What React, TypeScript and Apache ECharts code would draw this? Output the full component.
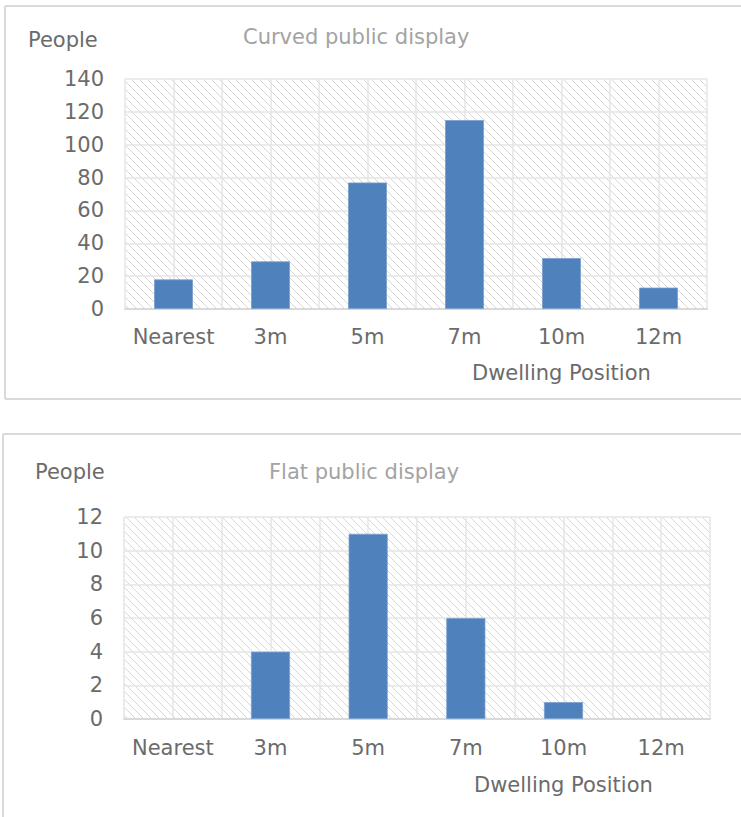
import React, { useEffect, useRef } from "react";
import * as echarts from "echarts";

const categories = ["Nearest", "3m", "5m", "7m", "10m", "12m"];
const curvedValues = [18, 29, 77, 115, 31, 13];
const flatValues = [0, 4, 11, 6, 1, 0];
const curvedAxis = { min: 0, max: 140, interval: 20 };
const flatAxis = { min: 0, max: 12, interval: 2 };
const curvedTitle = "Curved public display";
const flatTitle = "Flat public display";
const yName = "People";
const xName = "Dwelling Position";

const FONT = "DejaVu Sans, Verdana, sans-serif";
const FS = 21;
const LABEL = "#6b6b6b";
const TITLE = "#a3a3a3";
const GRIDLINE = "#e6e6e6";
const HATCH = "#d2d2d2";
const BAR = "#4f81bd";
const BORDER = "#d9d9d9";

const halfBands = Array.from({ length: categories.length * 2 }, (_, i) => String(i));

function hatchRender(params: any, api: any) {
  const cs = params.coordSys;
  const L = cs.x, T = cs.y, R = cs.x + cs.width, B = cs.y + cs.height;
  const children: any[] = [];
  const step = 8;
  for (let k = T - R; k <= B - L; k += step) {
    const x1 = Math.max(L, T - k);
    const x2 = Math.min(R, B - k);
    if (x2 > x1) {
      children.push({
        type: "line",
        silent: true,
        shape: { x1, y1: x1 + k, x2, y2: x2 + k },
        style: { stroke: HATCH, lineWidth: 0.9 },
      });
    }
  }
  return { type: "group", children };
}

export default function App() {
  const ref = useRef<HTMLDivElement>(null);
  useEffect(() => {
    if (!ref.current) return;
    const chart = echarts.init(ref.current, null, { renderer: "svg" });
    const labelStyle = { color: LABEL, fontSize: FS, fontFamily: FONT };
    const titleText = (text: string, left: number, top: number, color: string) => ({
      text,
      left,
      top,
      padding: 0,
      textStyle: { color, fontSize: FS, fontWeight: "normal", fontFamily: FONT },
    });
    const catAxis = (gridIndex: number, margin: number) => ({
      type: "category",
      gridIndex,
      data: categories,
      z: 1,
      axisLine: { show: true, lineStyle: { color: BORDER, width: 2 } },
      axisTick: { show: false },
      axisLabel: { ...labelStyle, margin, interval: 0 },
      splitLine: { show: false },
    });
    const halfAxis = (gridIndex: number) => ({
      type: "category",
      gridIndex,
      data: halfBands,
      position: "bottom",
      z: 1,
      axisLine: { show: false },
      axisTick: { show: false },
      axisLabel: { show: false },
      splitLine: { show: true, lineStyle: { color: GRIDLINE, width: 1.5 } },
    });
    const valAxis = (gridIndex: number, ax: any, margin: number) => ({
      type: "value",
      gridIndex,
      min: ax.min,
      max: ax.max,
      interval: ax.interval,
      z: 1,
      axisLine: { show: false },
      axisTick: { show: false },
      axisLabel: { ...labelStyle, margin },
      splitLine: { show: true, lineStyle: { color: GRIDLINE, width: 1.5 } },
    });
    chart.setOption({
      animation: false,
      backgroundColor: "#ffffff",
      title: [
        titleText(yName, 28, 29, LABEL),
        titleText(curvedTitle, 243, 26, TITLE),
        titleText(xName, 472, 362, LABEL),
        titleText(yName, 35, 461, LABEL),
        titleText(flatTitle, 269, 461, TITLE),
        titleText(xName, 474, 774, LABEL),
      ],
      grid: [
        { left: 125, top: 79, width: 582, height: 230 },
        { left: 124, top: 517, width: 586, height: 202 },
      ],
      xAxis: [catAxis(0, 17), catAxis(1, 18), halfAxis(0), halfAxis(1)],
      yAxis: [valAxis(0, curvedAxis, 21), valAxis(1, flatAxis, 21)],
      series: [
        {
          type: "custom",
          xAxisIndex: 0,
          yAxisIndex: 0,
          z: 0,
          silent: true,
          renderItem: hatchRender,
          data: [[0, 0]],
        },
        {
          type: "custom",
          xAxisIndex: 1,
          yAxisIndex: 1,
          z: 0,
          silent: true,
          renderItem: hatchRender,
          data: [[0, 0]],
        },
        {
          type: "bar",
          xAxisIndex: 0,
          yAxisIndex: 0,
          z: 2,
          barWidth: "40%",
          data: curvedValues,
          itemStyle: { color: BAR, borderColor: "#7a9fce", borderWidth: 0.8 },
        },
        {
          type: "bar",
          xAxisIndex: 1,
          yAxisIndex: 1,
          z: 2,
          barWidth: "40%",
          data: flatValues.map((v) => ({
            value: v,
            itemStyle: v === 0 ? { borderWidth: 0 } : undefined,
          })),
          itemStyle: { color: BAR, borderColor: "#7a9fce", borderWidth: 0.8 },
        },
      ],
      graphic: [
        { type: "line", shape: { x1: 5, y1: 6, x2: 741, y2: 6 }, style: { stroke: BORDER, lineWidth: 2 }, silent: true },
        { type: "line", shape: { x1: 5, y1: 6, x2: 5, y2: 399 }, style: { stroke: BORDER, lineWidth: 2 }, silent: true },
        { type: "line", shape: { x1: 5, y1: 399, x2: 741, y2: 399 }, style: { stroke: BORDER, lineWidth: 2 }, silent: true },
        { type: "line", shape: { x1: 3, y1: 434, x2: 741, y2: 434 }, style: { stroke: BORDER, lineWidth: 2 }, silent: true },
        { type: "line", shape: { x1: 3, y1: 434, x2: 3, y2: 817 }, style: { stroke: BORDER, lineWidth: 2 }, silent: true },
      ],
    });
    return () => chart.dispose();
  }, []);
  return (
    <div
      ref={ref}
      style={{ position: "fixed", left: 0, top: 0, width: 741, height: 817 }}
    />
  );
}
